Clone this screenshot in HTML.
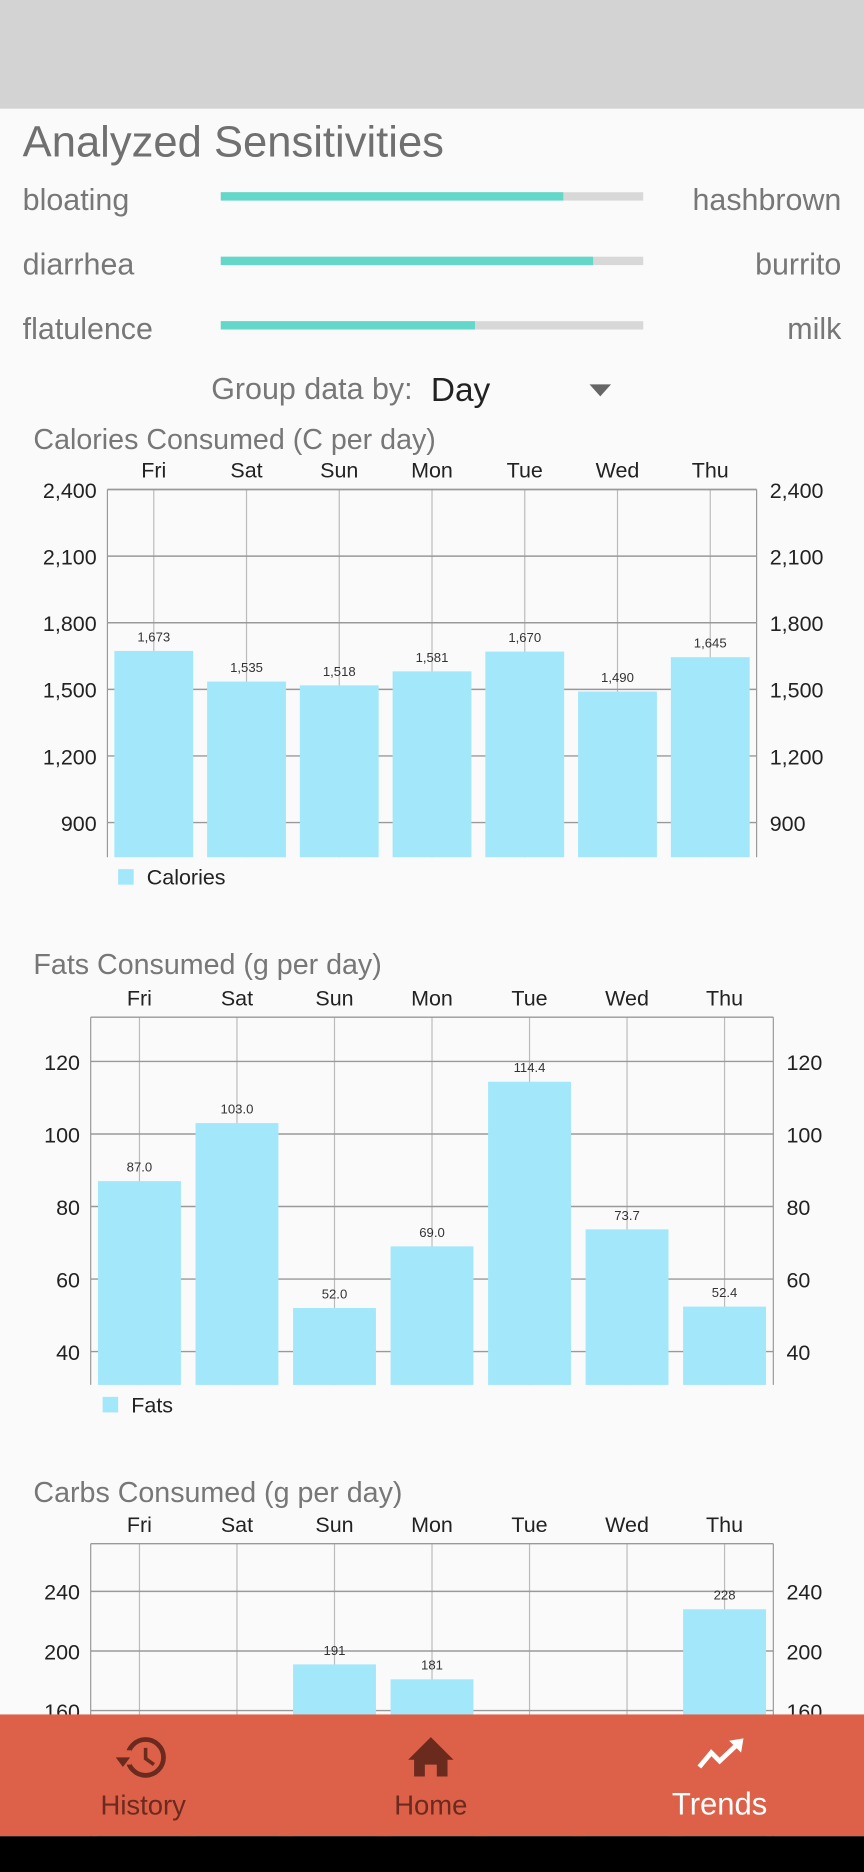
<!DOCTYPE html>
<html><head><meta charset="utf-8"><style>
html,body{margin:0;padding:0;width:864px;height:1872px;overflow:hidden;background:#fafafa;font-family:"Liberation Sans",sans-serif}
#wrap{position:absolute;left:0;top:0;width:724px;height:1568px;transform:scale(1.1934,1.1939);transform-origin:0 0}
.abs{position:absolute;white-space:nowrap}
.lbl{font-size:25.5px;color:#777}
.track{position:absolute;left:185px;width:354px;height:7px;background:#d8d8d8}
.fill{position:absolute;left:0;top:0;height:7px;background:#64d8c8}
svg text{font-family:"Liberation Sans",sans-serif}
</style></head><body>
<div id="wrap">
<div class="abs" style="left:0;top:0;width:724px;height:91px;background:#d3d3d3"></div>
<div class="abs" style="left:19px;top:98px;font-size:36.5px;color:#707070">Analyzed Sensitivities</div>

<div class="abs lbl" style="left:19px;top:154px">bloating</div>
<div class="track" style="top:161px"><div class="fill" style="width:287px"></div></div>
<div class="abs lbl" style="right:19px;top:154px">hashbrown</div>

<div class="abs lbl" style="left:19px;top:208px">diarrhea</div>
<div class="track" style="top:215px"><div class="fill" style="width:312px"></div></div>
<div class="abs lbl" style="right:19px;top:208px">burrito</div>

<div class="abs lbl" style="left:19px;top:262px">flatulence</div>
<div class="track" style="top:269px"><div class="fill" style="width:213px"></div></div>
<div class="abs lbl" style="right:19px;top:262px">milk</div>

<div class="abs lbl" style="left:177px;top:312px">Group data by:</div>
<div class="abs" style="left:355px;top:308px;width:170px;height:40px">
  <span style="position:absolute;left:6px;top:3px;font-size:28px;color:#222">Day</span>
  <span style="position:absolute;left:139px;top:14px;width:0;height:0;border-left:9px solid transparent;border-right:9px solid transparent;border-top:10px solid #666"></span>
</div>

<svg id="chart" style="position:absolute;left:0;top:0" width="724" height="1568"></svg>

<div class="abs" style="left:0;top:1436px;width:724px;height:102px;background:#dd6148">
  <div class="abs" style="left:60px;top:0;width:120px;height:102px">
    <svg width="120" height="60" style="position:absolute;left:0;top:14px"><circle cx="62" cy="22" r="15" fill="none" stroke="#6a2a1e" stroke-width="4"/><rect x="38" y="16" width="12" height="12" fill="#dd6148"/><polygon points="37,22 49,22 43,30" fill="#6a2a1e"/><polyline points="62,14 62,23 69,28" fill="none" stroke="#6a2a1e" stroke-width="3"/></svg>
    <div class="abs" style="left:0;width:120px;text-align:center;top:63px;font-size:23px;color:#6a2a1e">History</div>
  </div>
  <div class="abs" style="left:301px;top:0;width:120px;height:102px">
    <svg width="120" height="60" style="position:absolute;left:0;top:14px"><polygon points="60,5 79,24 74,24 74,38 65,38 65,28 55,28 55,38 46,38 46,24 41,24" fill="#6a2a1e"/></svg>
    <div class="abs" style="left:0;width:120px;text-align:center;top:63px;font-size:23px;color:#6a2a1e">Home</div>
  </div>
  <div class="abs" style="left:543px;top:0;width:120px;height:102px">
    <svg width="120" height="60" style="position:absolute;left:0;top:14px"><polyline points="43,30 53,18 60,25 75,11" fill="none" stroke="#fff" stroke-width="4"/><polygon points="68,8 80,6 78,18" fill="#fff"/></svg>
    <div class="abs" style="left:0;width:120px;text-align:center;top:60px;font-size:26px;color:#fff">Trends</div>
  </div>
</div>
<div class="abs" style="left:0;top:1538px;width:724px;height:30px;background:#000"></div>
</div>
<script>
const days = ["Fri","Sat","Sun","Mon","Tue","Wed","Thu"];
const calValues = [1673,1535,1518,1581,1670,1490,1645];
const calTicks = [900,1200,1500,1800,2100,2400];
const calLabels = ["1,673","1,535","1,518","1,581","1,670","1,490","1,645"];
const fatValues = [87.0,103.0,52.0,69.0,114.4,73.7,52.4];
const fatTicks = [40,60,80,100,120];
const fatLabels = ["87.0","103.0","52.0","69.0","114.4","73.7","52.4"];
const carbValues = [140,135,191,181,130,145,228];
const carbTicks = [160,200,240];
const carbLabels = ["140","135","191","181","130","145","228"];

const NS="http://www.w3.org/2000/svg";
const svg=document.getElementById('chart');
function el(tag,attrs,parent){const e=document.createElementNS(NS,tag);for(const k in attrs)e.setAttribute(k,attrs[k]);(parent||svg).appendChild(e);return e;}
function fmt(v){return v>=1000?v.toLocaleString('en-US'):String(v);}

function drawChart(cfg){
  const g=el('g',{});
  
  
  const y=v=>cfg.bottom-(v-cfg.min)/(cfg.max-cfg.min)*(cfg.bottom-cfg.top);
  const bw=(cfg.right-cfg.left)/cfg.cats.length;
  const xc=i=>cfg.left+bw*(i+0.5);
  const t=el('text',{x:cfg.titleX,y:cfg.titleY,'font-size':24,fill:'#777'},g);t.textContent=cfg.title;
  
  
  cfg.cats.forEach((c,i)=>{
    el('line',{x1:xc(i),x2:xc(i),y1:cfg.top,y2:cfg.bottom,stroke:'#bbb','stroke-width':1},g);
    const tx=el('text',{x:xc(i),y:cfg.top-10,'font-size':18,fill:'#222','text-anchor':'middle'},g);tx.textContent=c;
    
    
  });
  cfg.ticks.forEach(v=>{
    el('line',{x1:cfg.left,x2:cfg.right,y1:y(v),y2:y(v),stroke:'#999','stroke-width':1.2},g);
    const a=el('text',{x:cfg.left-9,y:y(v)+7,'font-size':18,fill:'#222','text-anchor':'end'},g);a.textContent=fmt(v);
    
    
    const b=el('text',{x:cfg.right+11,y:y(v)+7,'font-size':18,fill:'#222'},g);b.textContent=fmt(v);
    
    
  });
  el('line',{x1:cfg.left,x2:cfg.right,y1:cfg.top,y2:cfg.top,stroke:'#999','stroke-width':1.2},g);
  el('line',{x1:cfg.left,x2:cfg.left,y1:cfg.top,y2:cfg.bottom,stroke:'#999','stroke-width':1},g);
  el('line',{x1:cfg.right,x2:cfg.right,y1:cfg.top,y2:cfg.bottom,stroke:'#999','stroke-width':1},g);
  cfg.vals.forEach((v,i)=>{
    const w=bw*cfg.bf;
    const r=el('rect',{x:xc(i)-w/2,y:y(v),width:w,height:cfg.bottom-y(v),fill:'#a3e7fb'},g);
    
    
    const l=el('text',{x:xc(i),y:y(v)-8,'font-size':11,fill:'#333','text-anchor':'middle'},g);l.textContent=cfg.labels[i];
    
    
  });
  if(cfg.legend){
    const lg=el('g',{},g);
    
    
    el('rect',{x:cfg.legend[0],y:cfg.bottom+10,width:13,height:13,fill:'#a3e7fb'},lg);
    const lt=el('text',{x:cfg.legend[0]+24,y:cfg.bottom+23,'font-size':18,fill:'#222'},lg);lt.textContent=cfg.legend[1];
  }
}
drawChart({name:'calories-chart',title:'Calories Consumed (C per day)',titleX:28,titleY:376,cats:days,vals:calValues,labels:calLabels,ticks:calTicks,min:744,max:2400,left:90,right:634,top:410,bottom:718,bf:0.85,legend:[99,'Calories']});
drawChart({name:'fats-chart',title:'Fats Consumed (g per day)',titleX:28,titleY:816,cats:days,vals:fatValues,labels:fatLabels,ticks:fatTicks,min:30.8,max:132.2,left:76,right:648,top:852,bottom:1160,bf:0.85,legend:[86,'Fats']});
drawChart({name:'carbs-chart',title:'Carbs Consumed (g per day)',titleX:28,titleY:1258,cats:days,vals:carbValues,labels:carbLabels,ticks:carbTicks,min:26,max:272,left:76,right:648,top:1293,bottom:1600,bf:0.85,legend:null});
</script>
</body></html>
